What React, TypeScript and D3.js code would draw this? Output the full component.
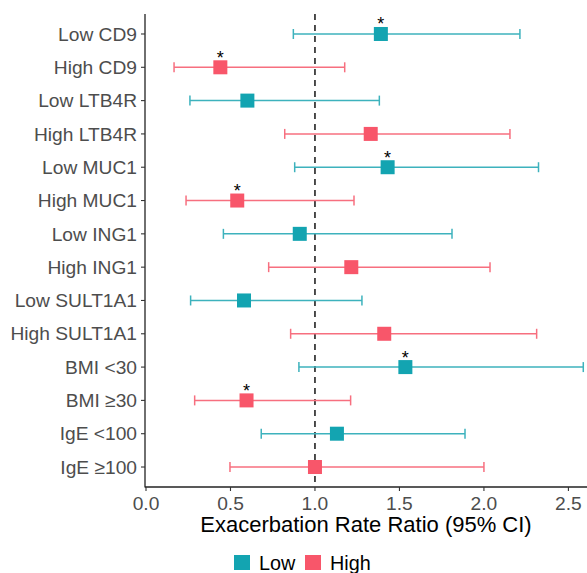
import React from "react";
import * as d3 from "d3";

const labels = [
  "Low CD9", "High CD9", "Low LTB4R", "High LTB4R", "Low MUC1", "High MUC1",
  "Low ING1", "High ING1", "Low SULT1A1", "High SULT1A1",
  "BMI <30", "BMI ≥30", "IgE <100", "IgE ≥100",
];
const groups = ["Low", "High", "Low", "High", "Low", "High", "Low", "High", "Low", "High", "Low", "High", "Low", "High"];
const estimates = [1.39, 0.44, 0.6, 1.33, 1.43, 0.54, 0.91, 1.215, 0.58, 1.41, 1.535, 0.595, 1.13, 1.0];
const lower = [0.872, 0.166, 0.26, 0.821, 0.88, 0.237, 0.458, 0.726, 0.264, 0.856, 0.905, 0.288, 0.682, 0.497];
const upper = [2.213, 1.176, 1.381, 2.154, 2.323, 1.231, 1.811, 2.036, 1.278, 2.312, 2.588, 1.211, 1.888, 2.0];
const significant = [true, true, false, false, true, true, false, false, false, false, true, true, false, false];
const xTicks = [0, 0.5, 1, 1.5, 2, 2.5];
const legendKeys = ["Low", "High"];

const width = 587;
const height = 573;
const margin = { left: 145, right: 0, top: 14, bottom: 86 };

const App = () => {
  const x = d3.scaleLinear().domain([0, 2.61]).range([146, width]);
  const y = d3
    .scalePoint<string>()
    .domain(labels)
    .range([margin.top, height - margin.bottom])
    .padding(0.6);
  const color = d3.scaleOrdinal<string, string>().domain(legendKeys).range(["#13A4B1", "#F8566A"]);
  const lineColor = d3.scaleOrdinal<string, string>().domain(legendKeys).range(["#3DB2BD", "#F76F7F"]);
  const panelBottom = height - margin.bottom;
  const box = 14;
  const cap = 5;
  const font = "'Liberation Sans', Arial, sans-serif";

  return (
    <svg width={width} height={height} style={{ display: "block", position: "absolute", left: 0, top: 0 }} fontFamily={font}>
      <rect width={width} height={height} fill="white" />
      {/* reference line */}
      <line x1={x(1)} x2={x(1)} y1={margin.top} y2={panelBottom} stroke="#222" strokeWidth={1.6} strokeDasharray="6,5" />
      {labels.map((lab, i) => {
        const cy = y(lab)!;
        const g = groups[i];
        return (
          <g key={lab}>
            <line x1={x(lower[i])} x2={x(upper[i])} y1={cy} y2={cy} stroke={lineColor(g)} strokeWidth={1.5} />
            <line x1={x(lower[i])} x2={x(lower[i])} y1={cy - cap} y2={cy + cap} stroke={lineColor(g)} strokeWidth={1.5} />
            <line x1={x(upper[i])} x2={x(upper[i])} y1={cy - cap} y2={cy + cap} stroke={lineColor(g)} strokeWidth={1.5} />
            <rect x={x(estimates[i]) - box / 2} y={cy - box / 2} width={box} height={box} fill={color(g)} />
            {significant[i] && (
              <text x={x(estimates[i])} y={cy - 3.5} textAnchor="middle" fontSize={18} fill="#000">*</text>
            )}
          </g>
        );
      })}
      {/* axes */}
      <line x1={margin.left} x2={margin.left} y1={margin.top} y2={panelBottom + 0.5} stroke="#222" strokeWidth={1.3} />
      <line x1={margin.left} x2={width} y1={panelBottom} y2={panelBottom} stroke="#222" strokeWidth={1.3} />
      {labels.map((lab) => (
        <g key={"yt" + lab}>
          <line x1={margin.left - 4} x2={margin.left} y1={y(lab)} y2={y(lab)} stroke="#333" strokeWidth={1.1} />
          <text x={margin.left - 8} y={y(lab)} dy="0.35em" textAnchor="end" fontSize={19.2} fill="#4D4D4D">{lab}</text>
        </g>
      ))}
      {xTicks.map((t) => (
        <g key={"xt" + t}>
          <line x1={x(t)} x2={x(t)} y1={panelBottom} y2={panelBottom + 4} stroke="#333" strokeWidth={1.1} />
          <text x={x(t)} y={panelBottom + 16} dy="0.35em" textAnchor="middle" fontSize={19.2} fill="#4D4D4D">{d3.format(".1f")(t)}</text>
        </g>
      ))}
      <text x={(margin.left + width) / 2} y={524} dy="0.35em" textAnchor="middle" fontSize={22} fill="#000">
        Exacerbation Rate Ratio (95% CI)
      </text>
      {/* legend */}
      {legendKeys.map((k, i) => {
        const lx = 234 + i * 71;
        return (
          <g key={"lg" + k}>
            <rect x={lx} y={555} width={16} height={15} fill={color(k)} />
            <text x={lx + 25} y={563} dy="0.35em" fontSize={19.8} fill="#000">{k}</text>
          </g>
        );
      })}
    </svg>
  );
};

export default App;
